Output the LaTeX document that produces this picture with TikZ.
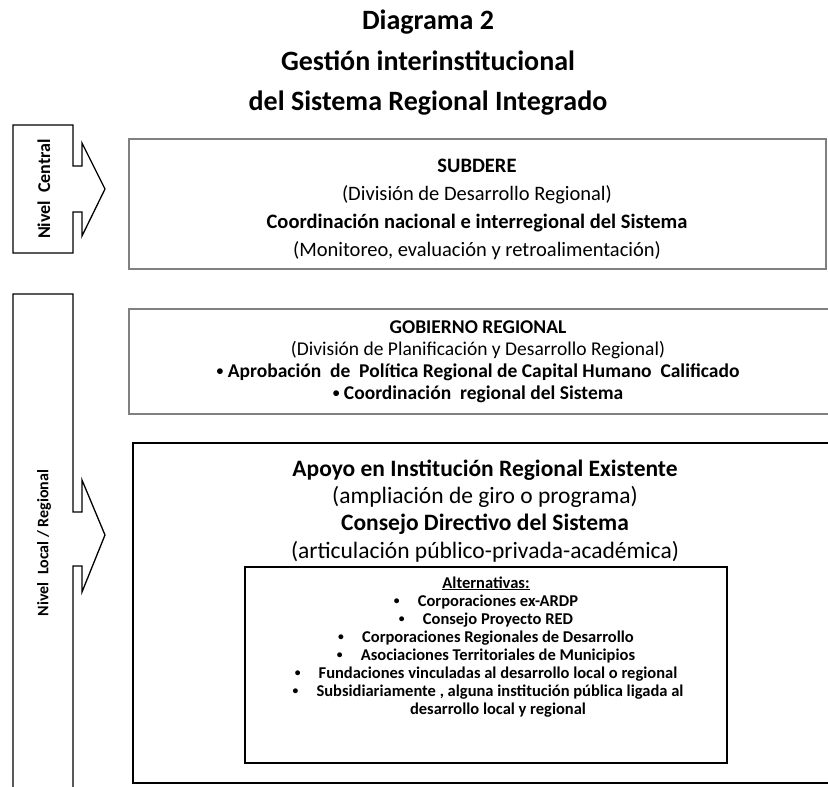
\documentclass[tikz,border=0pt]{standalone}
\usepackage{fontspec}
\setmainfont{Carlito}
\newcommand{\vineta}{\raisebox{.15ex}{\scalebox{.7}{\textbullet}}}

\begin{document}
\begin{tikzpicture}[x=1pt,y=-1pt,
    every node/.style={inner sep=0pt,anchor=base},
    titulo/.style={font=\fontsize{28}{32}\selectfont\bfseries},
    nivel/.style={rotate=90,anchor=center,font=\fontsize{#1}{20}\selectfont\bfseries},
    cajagris/.style={draw=black!50,line width=2.6pt},
    cajanegra/.style={draw=black,line width=1.3pt},
    flecha/.style={draw=black,line width=1.3pt,line join=miter},
    subtxt/.style={font=\fontsize{20.5}{24}\selectfont},
    subneg/.style={font=\fontsize{20.5}{24}\selectfont\bfseries},
    goretxt/.style={font=\fontsize{19.5}{22}\selectfont},
    goreneg/.style={font=\fontsize{19.5}{22}\selectfont\bfseries},
    apotxt/.style={font=\fontsize{23.5}{27}\selectfont},
    aponeg/.style={font=\fontsize{23.5}{27}\selectfont\bfseries},
    altneg/.style={font=\fontsize{16.5}{18}\selectfont\bfseries}]
    \useasboundingbox (0,0) rectangle (828,787);
    % titulo
    \node [titulo] (tit1) at (428,29) {Diagrama 2};
    \node [titulo] (tit2) at (428,70) {Gestión interinstitucional};
    \node [titulo] (tit3) at (428,110) {del Sistema Regional Integrado};
    % flechas de nivel
    \draw [flecha] (13,125) -- (73,125) -- (73,166) -- (82,166) -- (82,143) -- (105,189)
        -- (82,236) -- (82,212) -- (73,212) -- (73,253) -- (13,253) -- cycle;
    \node [nivel=18] (central) at (44,189) {Nivel\ \ Central};
    \draw [flecha] (13,787) -- (13,294) -- (73,294) -- (73,512) -- (82,512) -- (82,480) -- (105,535)
        -- (82,592) -- (82,566) -- (73,566) -- (73,787);
    \node [nivel=16] (regional) at (44,543) {Nivel\ \ Local / Regional};
    % nivel central
    \draw [cajagris] (129,139) rectangle (826,269);
    \node [subneg] (sub1) at (477,172) {SUBDERE};
    \node [subtxt] (sub2) at (477,200) {(División de Desarrollo Regional)};
    \node [subneg] (sub3) at (477,228) {Coordinación nacional e interregional del Sistema};
    \node [subtxt] (sub4) at (477,256) {(Monitoreo, evaluación y retroalimentación)};
    % gobierno regional
    \draw [cajagris] (832,309) -- (129,309) -- (129,414) -- (832,414);
    \node [goreneg] (gore1) at (478,333) {GOBIERNO REGIONAL};
    \node [goretxt] (gore2) at (478,355) {(División de Planificación y Desarrollo Regional)};
    \node [goreneg] (gore3) at (478,377) {\vineta\ Aprobación\ \ de\ \ Política Regional de Capital Humano\ \ Calificado};
    \node [goreneg] (gore4) at (478,399) {\vineta\ Coordinación\ \ regional del Sistema};
    % institucion regional
    \draw [cajanegra] (832,443) -- (133,443) -- (133,783) -- (832,783);
    \node [aponeg] (apoyo1) at (485,476) {Apoyo en Institución Regional Existente};
    \node [apotxt] (apoyo2) at (485,503) {(ampliación de giro o programa)};
    \node [aponeg] (apoyo3) at (485,530) {Consejo Directivo del Sistema};
    \node [apotxt] (apoyo4) at (485,558) {(articulación público-privada-académica)};
    % alternativas
    \draw [cajanegra] (245,567) rectangle (727,763);
    \node [altneg] (alt0) at (486,588) {\underline{Alternativas:}};
    \node [altneg] (alt1) at (486,606) {\vineta\hspace{1.1em}Corporaciones ex-ARDP};
    \node [altneg] (alt2) at (486,624) {\vineta\hspace{1.1em}Consejo Proyecto RED};
    \node [altneg] (alt3) at (486,642) {\vineta\hspace{1.1em}Corporaciones Regionales de Desarrollo};
    \node [altneg] (alt4) at (486,660) {\vineta\hspace{1.1em}Asociaciones Territoriales de Municipios};
    \node [altneg] (alt5) at (486,678) {\vineta\hspace{1.1em}Fundaciones vinculadas al desarrollo local o regional};
    \node [altneg] (alt6) at (488,696) {\vineta\hspace{1.1em}Subsidiariamente , alguna institución pública ligada al};
    \node [altneg] (alt7) at (498,714) {desarrollo local y regional};
\end{tikzpicture}
\end{document}
